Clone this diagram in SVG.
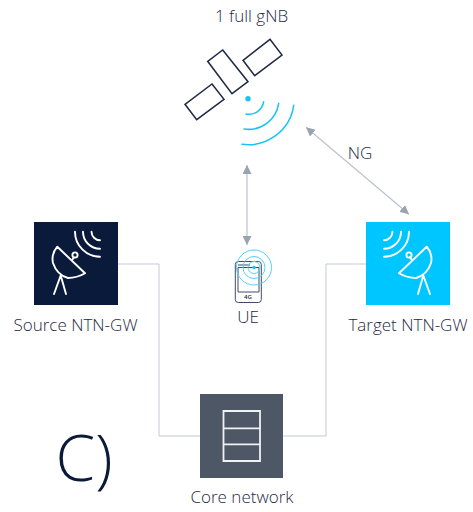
<svg xmlns="http://www.w3.org/2000/svg" width="473" height="512" viewBox="0 0 473 512">
<style>
text{font-family:"Open Sans","Noto Sans",sans-serif;fill:#1f2a44;font-size:17px;font-weight:300;text-anchor:middle}
.w{fill:none;stroke:#fff;stroke-width:1.9;stroke-linecap:round;stroke-linejoin:round}
.c{fill:none;stroke:#c3c9d1;stroke-width:1}
.a{fill:none;stroke:#bcc3cd;stroke-width:1.2;marker-start:url(#h);marker-end:url(#h)}
.p{fill:none;stroke:#1f2a44;stroke-width:1.5}
.b{fill:none;stroke:#18c3f5;stroke-width:1.5;stroke-linecap:round}
.u{fill:none;stroke:#4fd3f7;stroke-width:1}
</style>
<defs>
<marker id="h" viewBox="0 0 10 10" refX="10" refY="5" markerWidth="9" markerHeight="9" markerUnits="userSpaceOnUse" orient="auto-start-reverse"><path d="M0 0L10 5L0 10Z" fill="#9aa3b0"/></marker>
<g id="dish" class="w">
<path d="M426.7 246.7Q433 254 431 263Q427 275 416 278Q407 278 399 273.3Z"/>
<circle cx="409" cy="255" r="2.6"/>
<path d="M410 257.5L412 260M423.3 275.5L418 294M423.3 275.5L430 294M384 256.7A25 25 0 0 0 409 231.7M384 248.7A17 17 0 0 0 401 231.7M384 240.2A8.5 8.5 0 0 0 392.5 231.7"/>
</g>
</defs>
<g id="connectors">
<path class="c" d="M118 264H159V436H200"/>
<path class="c" d="M366 264H326V436H283"/>
<path class="a" d="M247 165V245"/>
<path class="a" d="M306 127.3L409 214.3"/>
</g>
<g id="satellite">
<path class="p" d="M270 39.3L282 55L254.7 75.7L243 60.3Z"/>
<path class="p" d="M222.7 50L248 81.7L232 93.7L207.7 61.3Z"/>
<path class="p" d="M212 84L224 99.3L196.7 119.7L185 104.3Z"/>
<circle cx="248" cy="98.7" r="2.7" fill="#18c3f5"/>
<path class="b" d="M263.7 101.7A15 15 0 0 1 246 114"/>
<path class="b" d="M278.7 103.3A30.5 30.5 0 0 1 244 129"/>
<path class="b" d="M293.7 105.3A46 46 0 0 1 242 144.3"/>
<text x="251.5" y="22">1 full gNB</text>
</g>
<g id="source">
<rect x="34" y="222" width="84" height="83" fill="#0a1a3a"/>
<use href="#dish" transform="matrix(-1 0 0 1 484 0)"/>
<text x="75.5" y="331">Source NTN-GW</text>
</g>
<g id="target">
<rect x="366" y="222" width="84" height="83" fill="#00c6ff"/>
<use href="#dish"/>
<text x="408" y="331">Target NTN-GW</text>
</g>
<g id="ue">
<rect x="235.3" y="261.5" width="26" height="41" rx="3" fill="none" stroke="#3f4a63" stroke-width="1"/>
<path d="M238 265H250M238 292V267.5H259V292M238 292H259" fill="none" stroke="#3f4a63" stroke-width="1"/>
<text x="248" y="299" style="font-size:6px;font-weight:600">4G</text>
<circle class="u" cx="254" cy="267.5" r="17.5"/>
<circle class="u" cx="254" cy="267.5" r="11"/>
<circle class="u" cx="254" cy="267.5" r="6"/>
<circle cx="254" cy="267.5" r="1.8" fill="#18c3f5"/>
<text x="248" y="323">UE</text>
</g>
<g id="core">
<rect x="200" y="394" width="83" height="84" fill="#4d5766"/>
<path d="M223.5 411H260V461H223.5ZM223.5 428.3H260M223.5 444.3H260" fill="none" stroke="#f0f2f4" stroke-width="1.8"/>
<text x="242" y="503">Core network</text>
</g>
<g id="labels">
<text x="360" y="159">NG</text>
<text x="84" y="481" style="font-size:64px;font-weight:300;fill:#0a1a3a">C)</text>
</g>
</svg>
